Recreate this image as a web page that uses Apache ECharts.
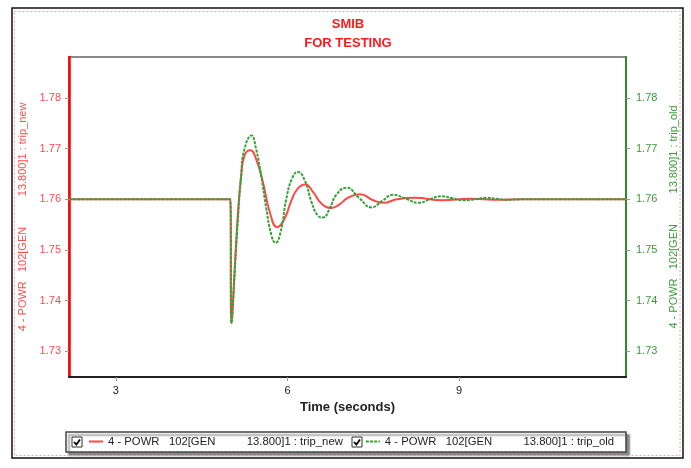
<!DOCTYPE html>
<html>
<head>
<meta charset="utf-8">
<script src="https://cdn.jsdelivr.net/npm/echarts@6/dist/echarts.min.js"></script>
<style>
html,body{margin:0;padding:0;background:#fff;}
#c{width:691px;height:468px;}
</style>
</head>
<body>
<div id="c"></div>
<script>
// ---- data ----
const xTicks = [3, 6, 9];
const yTicks = [1.73, 1.74, 1.75, 1.76, 1.77, 1.78];

const tNew = [2.18, 5.00, 5.02, 5.13, 5.19, 5.25, 5.35, 5.45, 5.57, 5.69, 5.82, 5.95, 6.07, 6.18, 6.31, 6.45, 6.59, 6.77, 6.91, 7.06, 7.27, 7.50, 7.68, 7.91, 8.23, 8.70, 9.20, 9.70, 10.10, 11.92];
const pNew = [1.7600, 1.7600, 1.7355, 1.7565, 1.7645, 1.7687, 1.7697, 1.7680, 1.7634, 1.7575, 1.7545, 1.7562, 1.7598, 1.7621, 1.7629, 1.7614, 1.7592, 1.7583, 1.7590, 1.7603, 1.7610, 1.7598, 1.7593, 1.7600, 1.7603, 1.7598, 1.7601, 1.7599, 1.7600, 1.7600];

const tOld = [2.18, 5.00, 5.02, 5.13, 5.19, 5.25, 5.37, 5.45, 5.54, 5.63, 5.72, 5.79, 5.88, 5.98, 6.08, 6.18, 6.30, 6.42, 6.53, 6.62, 6.74, 6.85, 7.03, 7.25, 7.47, 7.66, 7.85, 8.07, 8.29, 8.49, 8.69, 8.88, 9.07, 9.28, 9.48, 9.65, 9.83, 10.10, 11.92];
const pOld = [1.7600, 1.7600, 1.7355, 1.7555, 1.7647, 1.7700, 1.7726, 1.7700, 1.7647, 1.7582, 1.7529, 1.7514, 1.7535, 1.7601, 1.7641, 1.7654, 1.7638, 1.7595, 1.7568, 1.7564, 1.7582, 1.7608, 1.7623, 1.7603, 1.7584, 1.7597, 1.7609, 1.7601, 1.7593, 1.7600, 1.7606, 1.7602, 1.7598, 1.7600, 1.7603, 1.7601, 1.7599, 1.7600, 1.7600];

const nameNew = '4 - POWR   102[GEN          13.800]1 : trip_new';
const nameOld = '4 - POWR   102[GEN          13.800]1 : trip_old';

const FONT = '"Liberation Sans", Arial, sans-serif';
const RED = '#ff4848';
const GREEN = '#36a036';

const chart = echarts.init(document.getElementById('c'), null, {renderer: 'canvas'});

function yAxisCfg(pos, axisColor, labelColor, name) {
  return {
    type: 'value',
    position: pos,
    min: 1.7249,
    max: 1.7881,
    name: name,
    nameLocation: 'middle',
    nameGap: 39,
    nameRotate: 90,
    nameTextStyle: {color: labelColor, fontSize: 11, fontFamily: FONT},
    axisLine: {show: true, lineStyle: {color: axisColor, width: pos === 'left' ? 2.5 : 2}},
    axisTick: {show: true, length: 4, lineStyle: {color: '#999'}, customValues: yTicks},
    axisLabel: {
      color: labelColor, fontSize: 11, fontFamily: FONT,
      margin: pos === 'left' ? 8 : 10,
      customValues: yTicks,
      formatter: v => v.toFixed(2)
    },
    splitLine: {show: false}
  };
}

function checkbox(x, y) {
  return [
    {type: 'rect', silent: true, z: 200, shape: {x: x, y: y, width: 10, height: 10},
     style: {fill: '#fff', stroke: '#333', lineWidth: 1}},
    {type: 'polyline', silent: true, z: 201, shape: {points: [[x + 2, y + 5], [x + 4.3, y + 7.5], [x + 8, y + 2.5]]},
     style: {fill: 'none', stroke: '#000', lineWidth: 1.8}}
  ];
}

const option = {
  animation: false,
  backgroundColor: '#fff',
  title: {
    text: 'SMIB\nFOR TESTING',
    left: 348,
    top: 15,
    padding: 0,
    textAlign: 'center',
    textStyle: {color: '#ff1a1a', fontSize: 13, fontWeight: 'bold', fontFamily: FONT, lineHeight: 19}
  },
  grid: {
    left: 69, right: 65, top: 57, bottom: 91,
    show: true, borderColor: '#8a8a8a', borderWidth: 2, backgroundColor: '#fff'
  },
  xAxis: {
    type: 'value',
    min: 2.18,
    max: 11.92,
    name: 'Time (seconds)',
    nameLocation: 'middle',
    nameGap: 23,
    nameTextStyle: {color: '#222', fontSize: 13, fontWeight: 'bold', fontFamily: FONT},
    axisLine: {show: true, lineStyle: {color: '#222', width: 2}},
    axisTick: {show: true, length: 4, lineStyle: {color: '#999'}, customValues: xTicks},
    axisLabel: {color: '#222', fontSize: 11, fontFamily: FONT, margin: 8, customValues: xTicks},
    splitLine: {show: false}
  },
  yAxis: [
    yAxisCfg('left', '#ff0000', '#ff4d4d', nameNew),
    yAxisCfg('right', '#2a8c2a', '#3a9a3a', nameOld)
  ],
  legend: {
    left: 66,
    top: 432,
    orient: 'horizontal',
    padding: [4, 12, 5, 22],
    itemWidth: 14,
    itemHeight: 12,
    itemGap: 22,
    borderColor: '#444',
    borderWidth: 1.5,
    backgroundColor: '#fff',
    shadowColor: 'rgba(0,0,0,0.45)',
    shadowBlur: 2,
    shadowOffsetX: 3,
    shadowOffsetY: 3,
    itemStyle: {opacity: 0},
    textStyle: {color: '#222', fontSize: 11.3, fontFamily: FONT},
    selectedMode: false,
    data: [nameNew, nameOld]
  },
  series: [
    {
      name: nameNew,
      type: 'line',
      yAxisIndex: 0,
      data: tNew.map((t, i) => [t, pNew[i]]),
      smooth: 0.5,
      symbol: 'none',
      lineStyle: {color: RED, width: 2},
      itemStyle: {color: RED},
      z: 2
    },
    {
      name: nameOld,
      type: 'line',
      yAxisIndex: 1,
      data: tOld.map((t, i) => [t, pOld[i]]),
      smooth: 0.5,
      symbol: 'none',
      lineStyle: {color: GREEN, width: 2, type: [3, 1.2]},
      itemStyle: {color: GREEN},
      z: 3
    }
  ],
  graphic: [
    {type: 'rect', silent: true, z: 100, shape: {x: 12, y: 8, width: 671, height: 450},
     style: {fill: 'none', stroke: '#111', lineWidth: 1.5}},
    {type: 'rect', silent: true, z: 99, shape: {x: 14.5, y: 11.5, width: 665.5, height: 444},
     style: {fill: 'none', stroke: '#f2a6a6', lineWidth: 1, lineDash: [2, 2]}}
  ].concat(checkbox(72, 437), checkbox(352, 437))
};

chart.setOption(option);
</script>
</body>
</html>
